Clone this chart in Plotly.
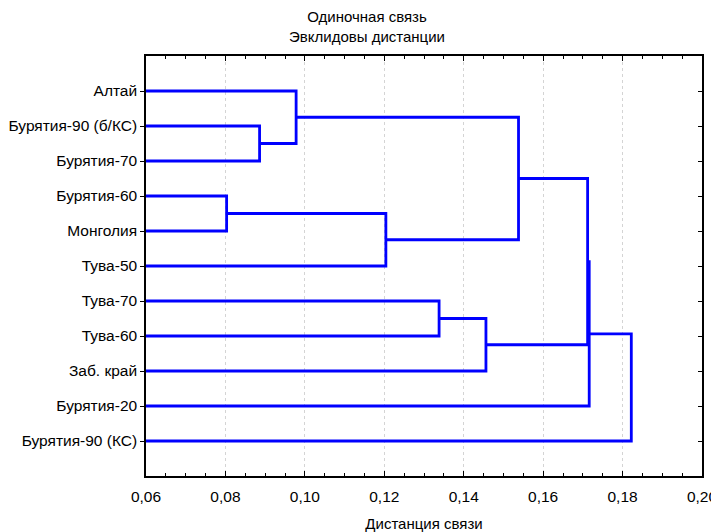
import plotly.graph_objects as go

# Leaves, top to bottom
leaves = ["Алтай", "Бурятия-90 (б/КС)", "Бурятия-70", "Бурятия-60", "Монголия",
          "Тува-50", "Тува-70", "Тува-60", "Заб. край", "Бурятия-20", "Бурятия-90 (КС)"]

# Merges: cluster ids 0..10 are leaves, merge k creates cluster 11+k
merge_left = [1, 0, 3, 13, 12, 6, 16, 15, 18, 19]
merge_right = [2, 11, 4, 5, 14, 7, 8, 17, 9, 10]
merge_dist = [0.0886, 0.0978, 0.0803, 0.1204, 0.1538, 0.1338, 0.1456, 0.1712, 0.1716, 0.1822]

x_ticks = [0.06, 0.08, 0.10, 0.12, 0.14, 0.16, 0.18, 0.20]

n = len(leaves)
pos = {i: i + 1 for i in range(n)}
height = {i: 0.0 for i in range(n)}

xs, ys = [], []
for k, (a, b, d) in enumerate(zip(merge_left, merge_right, merge_dist)):
    cid = n + k
    xs += [height[a], d, d, height[b], None]
    ys += [pos[a], pos[a], pos[b], pos[b], None]
    pos[cid] = (pos[a] + pos[b]) / 2
    height[cid] = d

fig = go.Figure()
fig.add_trace(go.Scatter(x=xs, y=ys, mode="lines",
                         line=dict(color="#0000FF", width=2.8),
                         hoverinfo="skip", showlegend=False))
fig.add_trace(go.Scatter(x=[None], y=[None], yaxis="y2", showlegend=False,
                         hoverinfo="skip"))

# page body has an 8px default margin, so the figure is 8px smaller
W, H = 711, 524
font = "Liberation Sans, Arial, sans-serif"
fs = 15.5
fig.update_layout(
    width=W, height=H,
    margin=dict(l=138, r=17, t=48, b=56, autoexpand=False),
    paper_bgcolor="white", plot_bgcolor="white",
    separators=", ",
    font=dict(family=font, size=fs, color="black"),
    title=dict(text="Одиночная связь<br>Эвклидовы дистанции",
               x=359 / W, xanchor="center", xref="container",
               y=1 - 14 / H, yanchor="top", yref="container",
               automargin=False,
               font=dict(family=font, size=15, color="black")),
    xaxis=dict(range=[0.06, 0.20], tickvals=x_ticks, tickformat=".2f",
               ticks="inside", ticklen=5, tickcolor="black",
               minor=dict(dtick=0.005, ticks="inside", ticklen=3, tickcolor="black", showgrid=False),
               showline=True, linecolor="black", linewidth=1.5, mirror="ticks",
               showgrid=True, gridcolor="#d4d4d4", griddash="dot", gridwidth=1,
               zeroline=False, ticklabelstandoff=6, automargin=False,
               title=dict(text="Дистанция связи", standoff=21,
                          font=dict(family=font, size=15))),
    yaxis=dict(range=[n + 1, 0], tickvals=list(range(1, n + 1)), ticktext=leaves,
               ticks="outside", ticklen=4, tickcolor="black", automargin=False,
               showline=True, linecolor="black", linewidth=1.5, mirror=True,
               showgrid=False, zeroline=False),
    yaxis2=dict(range=[n + 1, 0], tickvals=list(range(1, n + 1)),
                overlaying="y", side="right", showticklabels=False,
                ticks="inside", ticklen=4, tickcolor="black", automargin=False,
                showline=False, showgrid=False, zeroline=False),
)

fig.write_html("out.html")
